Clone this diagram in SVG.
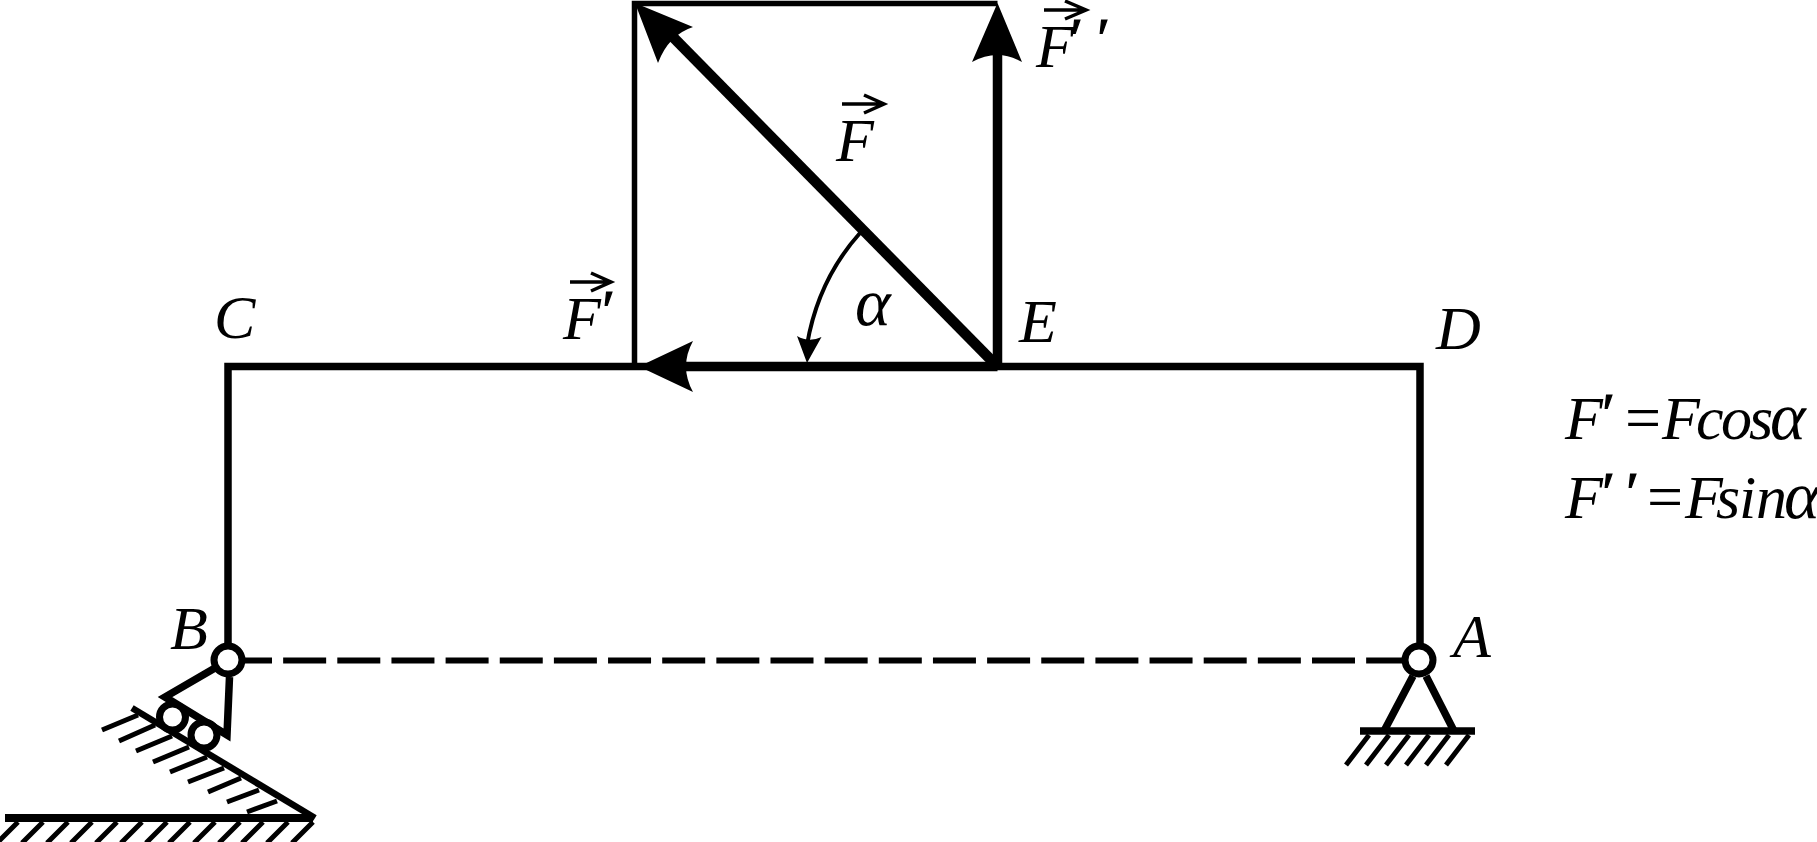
<svg xmlns="http://www.w3.org/2000/svg" width="1817" height="842" viewBox="0 0 1817 842">
<style>
text{font-family:"Liberation Serif","Times New Roman",serif;font-style:italic;font-size:62px;fill:#000}
.a{font-size:68px}
.p{font-size:56px;stroke:#000;stroke-width:1.2}
.e{font-style:normal;font-size:64px}
.l{fill:none;stroke:#000;stroke-linecap:butt;stroke-linejoin:miter}
.frame{stroke-width:7.500}
.thin{stroke-width:5.500}
.heavy{stroke-width:9.500}
.hatch{stroke-width:5}
.pin{fill:#fff;stroke:#000;stroke-width:7}
.head{fill:#000;stroke:none}
.vec{fill:none;stroke:#000;stroke-width:3.500}
</style>
<rect width="1817" height="842" fill="#fff"/>
<g id="connectors">
<path class="l frame" d="M228 660V366.500H1420V660"/>
<path class="l" style="stroke-width:6" d="M245 660.500H1403" stroke-dasharray="43 11.150" stroke-dashoffset="16"/>
<path class="l thin" d="M634.500 366V3.500H997.500"/>
<path class="l heavy" d="M997.500 366V50"/>
<path class="l heavy" d="M997.500 366.500H680"/>
<path class="l" style="stroke-width:10.500" d="M996.500 365.500L670 34"/>
<path class="head" d="M635 3L693 27Q668.500 35 658 63Z"/>
<path class="head" d="M997.500 3L1022 62Q997.500 48 972 62Z"/>
<path class="head" d="M639 366.500L693 341Q679 366.500 693 392Z"/>
<path class="l" style="stroke-width:4" d="M860 233Q818 280 807 345"/>
<path class="head" d="M807 363L821.500 337Q809 343 797 336Z"/>
</g>
<g id="node-A">
<path class="l frame" d="M1413 676L1384 731M1426 676L1454 731"/>
<path class="l" style="stroke-width:7.500" d="M1360 731H1475"/>
<path class="l hatch" d="M1369 735L1346 765M1389 735L1366 765M1409 735L1386 765M1429 735L1406 765M1449 735L1426 765M1469 735L1446 765"/>
<circle class="pin" cx="1419" cy="660" r="14"/>
<text x="1453" y="657">A</text>
</g>
<g id="node-B">
<path class="l frame" d="M215 668L165 697L227 735L229.500 677"/>
<path class="l" style="stroke-width:6.500" d="M132 708L315 818"/>
<path class="l hatch" d="M102 730L138 715M119 741L155 725M136 751L172 736M153 762L189 747M170 772L207 757M188 782L224 768M208 792L241 778M227 802L259 790M247 812L277 801"/>
<path class="l" style="stroke-width:8" d="M5 818H313"/>
<path class="l hatch" d="M18 822L-3 843M43 822L22 843M68 822L47 843M92 822L71 843M117 822L96 843M142 822L121 843M167 822L146 843M190 822L169 843M215 822L194 843M240 822L219 843M263 822L242 843M288 822L267 843M313 822L292 843"/>
<circle class="pin" cx="172.500" cy="717" r="13"/>
<circle class="pin" cx="204" cy="735" r="13"/>
<circle class="pin" cx="228" cy="660" r="14"/>
<text x="170" y="649">B</text>
</g>
<g id="node-C"><text x="214" y="338">C</text></g>
<g id="node-D"><text x="1436" y="349">D</text></g>
<g id="node-E"><text x="1019" y="342">E</text></g>
<g id="label-F">
<path class="vec" d="M842 104H883M864 95L884 104L864 113"/>
<text x="836" y="161">F</text>
</g>
<g id="label-Fp">
<path class="vec" d="M570 282H610M591 273L611 282L591 291"/>
<text y="339"><tspan x="563">F</tspan><tspan class="p" x="599" dy="-9">′</tspan></text>
</g>
<g id="label-Fpp">
<path class="vec" d="M1044 10H1085M1065 1L1086 10L1065 19"/>
<text y="67"><tspan x="1036">F</tspan><tspan class="p" x="1067 1094" dy="-9">′′</tspan></text>
</g>
<g id="label-alpha"><text class="a" x="855" y="325">α</text></g>
<g id="formula-1">
<text y="439"><tspan x="1565">F</tspan><tspan class="p" x="1599" dy="-6">′</tspan><tspan class="e" x="1625" dy="6">=</tspan><tspan x="1662 1696 1721 1749">Fcos</tspan><tspan class="a" x="1770">α</tspan></text>
</g>
<g id="formula-2">
<text y="518"><tspan x="1565">F</tspan><tspan class="p" x="1599 1623" dy="-6">′′</tspan><tspan class="e" x="1647" dy="6">=</tspan><tspan x="1685 1716 1739 1756">Fsin</tspan><tspan class="a" x="1784">α</tspan></text>
</g>
</svg>
